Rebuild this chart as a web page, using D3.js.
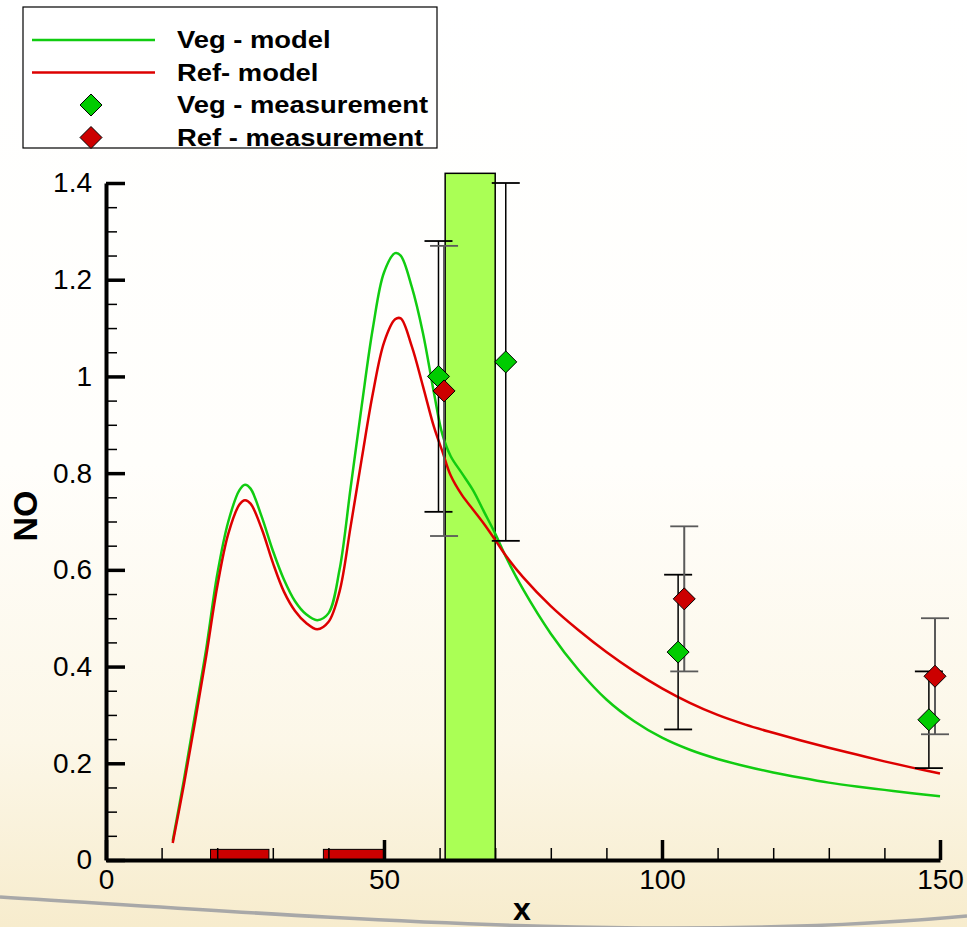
<!DOCTYPE html>
<html>
<head>
<meta charset="utf-8">
<script src="https://cdn.jsdelivr.net/npm/d3@7"></script>
<style>
  html, body { margin: 0; padding: 0; background: #fff; }
  svg { display: block; font-family: 'Liberation Sans', Arial, sans-serif; }
</style>
</head>
<body>
<svg id="chart" width="967" height="927"></svg>
<script>
// model curves (shared x samples)
const modelX = [12, 14, 16, 18, 20, 22, 24, 25, 26, 28, 30, 32, 34, 36, 38, 40, 42, 44, 46, 48, 50, 52, 53, 55, 57, 59, 60.5, 62, 64, 66, 68, 70, 72, 75, 80, 85, 90, 95, 100, 105, 110, 115, 120, 125, 130, 135, 140, 145, 150];
const vegModelY = [0.04, 0.165, 0.30, 0.435, 0.59, 0.70, 0.765, 0.776, 0.768, 0.71, 0.64, 0.58, 0.535, 0.508, 0.496, 0.51, 0.60, 0.77, 0.94, 1.10, 1.215, 1.255, 1.25, 1.185, 1.09, 0.965, 0.88, 0.835, 0.80, 0.765, 0.72, 0.675, 0.625, 0.56, 0.468, 0.393, 0.332, 0.287, 0.253, 0.228, 0.209, 0.194, 0.181, 0.170, 0.160, 0.152, 0.145, 0.138, 0.132];
const refModelY = [0.035, 0.155, 0.285, 0.42, 0.565, 0.675, 0.735, 0.744, 0.737, 0.685, 0.615, 0.555, 0.515, 0.49, 0.477, 0.492, 0.555, 0.69, 0.83, 0.965, 1.07, 1.118, 1.12, 1.062, 0.98, 0.895, 0.845, 0.795, 0.755, 0.725, 0.695, 0.662, 0.628, 0.585, 0.525, 0.475, 0.43, 0.39, 0.355, 0.325, 0.30, 0.28, 0.263, 0.247, 0.232, 0.218, 0.204, 0.191, 0.179];

// measurements with error bars
const vegMeasX = [59.8, 71.9, 102.9, 148];
const vegMeasY = [1.0, 1.03, 0.43, 0.29];
const vegMeasLo = [0.72, 0.66, 0.27, 0.19];
const vegMeasHi = [1.28, 1.40, 0.59, 0.39];
const refMeasX = [60.8, 104, 149.1];
const refMeasY = [0.97, 0.54, 0.38];
const refMeasLo = [0.67, 0.39, 0.26];
const refMeasHi = [1.27, 0.69, 0.50];

// vegetation block and the two red strips on the ground
const vegBlock = [61, 70, 1.42];
const refStrips = [[18.8, 29.3], [39.1, 50]];
const stripHeight = 0.022;

const xMajor = [0, 50, 100, 150];
const xMinor = [10, 20, 30, 40, 60, 70, 80, 90, 110, 120, 130, 140];
const yMajor = [0, 0.2, 0.4, 0.6, 0.8, 1, 1.2, 1.4];
const yMinor = d3.range(0.05, 1.4, 0.05).filter(v => Math.abs(v / 0.2 - Math.round(v / 0.2)) > 0.01);

const legendItems = ['Veg - model', 'Ref- model', 'Veg - measurement', 'Ref - measurement'];

const GREEN = '#11cc11';
const RED = '#dd0000';

const svg = d3.select('#chart');
const W = 967;
const H = 927;

const x = d3.scaleLinear().domain([0, 150]).range([106, 940]);
const y = d3.scaleLinear().domain([0, 1.4]).range([860, 183]);

// background: white fading to cream, with the grey swoosh
const defs = svg.append('defs');
const grad = defs.append('linearGradient').attr('id', 'bg').attr('x1', 0).attr('y1', 0).attr('x2', 0).attr('y2', 1);
grad.append('stop').attr('offset', '0%').attr('stop-color', '#ffffff');
grad.append('stop').attr('offset', '50%').attr('stop-color', '#fffefb');
grad.append('stop').attr('offset', '80%').attr('stop-color', '#fcf7e8');
grad.append('stop').attr('offset', '100%').attr('stop-color', '#f7eccd');
svg.append('rect').attr('width', W).attr('height', H).attr('fill', 'url(#bg)');
svg.append('path')
  .attr('d', 'M0,897 C300,915 650,945 967,916')
  .attr('fill', 'none')
  .attr('stroke', '#a8a8a8')
  .attr('stroke-width', 3.5);

const plot = svg.append('g');

// vegetation block
plot.append('rect')
  .attr('x', x(vegBlock[0]))
  .attr('y', y(vegBlock[2]))
  .attr('width', x(vegBlock[1]) - x(vegBlock[0]))
  .attr('height', y(0) - y(vegBlock[2]))
  .attr('fill', '#aaff55')
  .attr('stroke', '#000')
  .attr('stroke-width', 1.5);

plot.selectAll('.strip')
  .data(refStrips)
  .join('rect')
  .attr('class', 'strip')
  .attr('x', d => x(d[0]))
  .attr('y', y(stripHeight))
  .attr('width', d => x(d[1]) - x(d[0]))
  .attr('height', y(0) - y(stripHeight))
  .attr('fill', '#cc0000')
  .attr('stroke', '#000')
  .attr('stroke-width', 1);

// model lines
const line = d3.line().x(d => x(d[0])).y(d => y(d[1])).curve(d3.curveCatmullRom.alpha(0.5));
plot.append('path')
  .datum(modelX.map((v, i) => [v, vegModelY[i]]))
  .attr('d', line)
  .attr('fill', 'none')
  .attr('stroke', GREEN)
  .attr('stroke-width', 2.5);
plot.append('path')
  .datum(modelX.map((v, i) => [v, refModelY[i]]))
  .attr('d', line)
  .attr('fill', 'none')
  .attr('stroke', RED)
  .attr('stroke-width', 2.5);

const drawErrors = (xs, lo, hi, color, width) => {
  const g = plot.append('g').attr('stroke', color).attr('fill', 'none');
  xs.forEach((v, i) => {
    const cx = x(v);
    g.append('line').attr('x1', cx).attr('x2', cx).attr('y1', y(lo[i])).attr('y2', y(hi[i])).attr('stroke-width', width);
    [lo[i], hi[i]].forEach(e => {
      g.append('line').attr('x1', cx - 14).attr('x2', cx + 14).attr('y1', y(e)).attr('y2', y(e)).attr('stroke-width', 1.8);
    });
  });
};

const diamond = (cx, cy, r) => `M${cx},${cy - r}L${cx + r},${cy}L${cx},${cy + r}L${cx - r},${cy}Z`;

const drawDiamonds = (xs, ys, fill) => {
  plot.append('g')
    .selectAll('path')
    .data(xs.map((v, i) => [v, ys[i]]))
    .join('path')
    .attr('d', d => diamond(x(d[0]), y(d[1]), 11))
    .attr('fill', fill)
    .attr('stroke', '#000')
    .attr('stroke-width', 1);
};

drawErrors(vegMeasX, vegMeasLo, vegMeasHi, '#000', 1.5);
drawErrors(refMeasX, refMeasLo, refMeasHi, '#5a5a5a', 2);
drawDiamonds(vegMeasX, vegMeasY, '#00cc00');
drawDiamonds(refMeasX, refMeasY, '#cc0000');

// axes
const styleAxis = (g) => {
  g.select('.domain').attr('stroke', '#000').attr('stroke-width', 4);
  g.selectAll('.tick line').attr('stroke', '#000');
  g.selectAll('.tick text').attr('fill', '#000').style('font-size', '28px');
};

svg.append('g')
  .attr('transform', `translate(${x(0)},0)`)
  .call(d3.axisLeft(y).tickValues(yMinor).tickSize(-11).tickSizeOuter(0).tickFormat(''))
  .call(g => g.select('.domain').remove())
  .call(g => g.selectAll('.tick line').attr('stroke', '#000').attr('stroke-width', 1.5));

svg.append('g')
  .attr('transform', `translate(0,${y(0)})`)
  .call(d3.axisBottom(x).tickValues(xMinor).tickSize(-12).tickSizeOuter(0).tickFormat(''))
  .call(g => g.select('.domain').remove())
  .call(g => g.selectAll('.tick line').attr('stroke', '#000').attr('stroke-width', 1.5));

svg.append('g')
  .attr('transform', `translate(${x(0)},0)`)
  .call(d3.axisLeft(y).tickValues(yMajor).tickSize(-19).tickSizeOuter(0).tickPadding(14).tickFormat(d3.format('~g')))
  .call(styleAxis)
  .call(g => g.selectAll('.tick line').attr('stroke-width', 3.5));

svg.append('g')
  .attr('transform', `translate(0,${y(0)})`)
  .call(d3.axisBottom(x).tickValues(xMajor).tickSize(-20).tickSizeOuter(0).tickPadding(9).tickFormat(d3.format('~g')))
  .call(styleAxis)
  .call(g => g.selectAll('.tick line').attr('stroke-width', 3.5));

svg.append('text')
  .attr('transform', 'translate(37,516) rotate(-90)')
  .attr('text-anchor', 'middle')
  .style('font-size', '34px')
  .style('font-weight', 'bold')
  .text('NO');

svg.append('text')
  .attr('x', 522)
  .attr('y', 920)
  .attr('text-anchor', 'middle')
  .style('font-size', '32px')
  .style('font-weight', 'bold')
  .text('x');

// legend
const legend = svg.append('g');
legend.append('rect')
  .attr('x', 23).attr('y', 7).attr('width', 414).attr('height', 141)
  .attr('fill', '#fff').attr('stroke', '#000').attr('stroke-width', 1.2);

const rowY = [40, 72.5, 105, 137.5];
legend.append('line').attr('x1', 32).attr('x2', 155).attr('y1', rowY[0]).attr('y2', rowY[0]).attr('stroke', GREEN).attr('stroke-width', 2.5);
legend.append('line').attr('x1', 32).attr('x2', 155).attr('y1', rowY[1]).attr('y2', rowY[1]).attr('stroke', RED).attr('stroke-width', 2.5);
legend.append('path').attr('d', diamond(91, rowY[2], 11)).attr('fill', '#00cc00').attr('stroke', '#000');
legend.append('path').attr('d', diamond(91, rowY[3], 11)).attr('fill', '#cc0000').attr('stroke', '#000');

legend.selectAll('text.lab')
  .data(legendItems)
  .join('text')
  .attr('class', 'lab')
  .attr('x', 177)
  .attr('y', (d, i) => rowY[i] + 8)
  .style('font-size', '23px')
  .style('font-weight', 'bold')
  .text(d => d)
  .each(function () {
    // the source labels are drawn a bit wider than the font
    const len = this.getComputedTextLength();
    d3.select(this).attr('textLength', len * 1.19).attr('lengthAdjust', 'spacingAndGlyphs');
  });
</script>
</body>
</html>
